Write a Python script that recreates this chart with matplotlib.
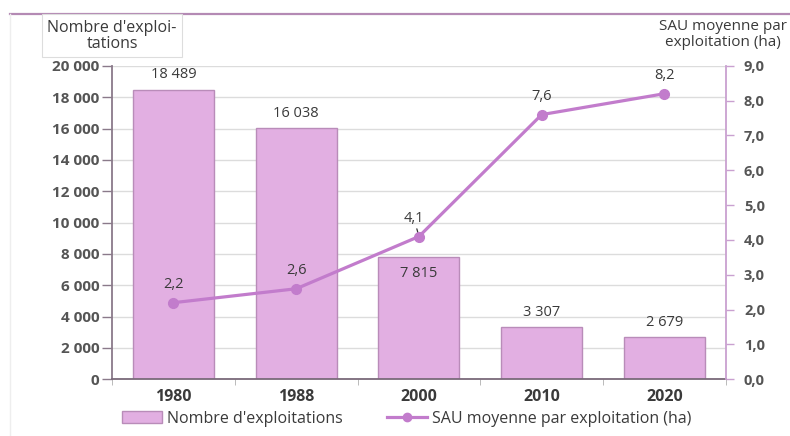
import matplotlib.pyplot as plt
from matplotlib.lines import Line2D
from matplotlib.patches import Patch
import numpy as np

years = ["1980", "1988", "2000", "2010", "2020"]
exploitations = [18489, 16038, 7815, 3307, 2679]
sau_moyenne = [2.2, 2.6, 4.1, 7.6, 8.2]

left_ticks = list(range(0, 20001, 2000))
right_ticks = [0, 1, 2, 3, 4, 5, 6, 7, 8, 9]

BAR = "#e2afe2"
BAR_EDGE = "#b98cb9"
LINE = "#c27ccc"
TXT = "#3a3a3a"
TICK_TXT = "#555555"

plt.rcParams["font.family"] = ["Open Sans", "DejaVu Sans"]


def fr_int(v):
    return f"{v:,}".replace(",", " ")


def fr_dec(v):
    return f"{v:.1f}".replace(".", ",")


fig = plt.figure(figsize=(7.9, 4.36), dpi=100)
ax = fig.add_axes([0.1418, 0.130, 0.777, 0.719])
ax2 = ax.twinx()

x = np.arange(len(years))
bars = ax.bar(x, exploitations, width=0.66, color=BAR, edgecolor=BAR_EDGE, linewidth=1.0, zorder=2)

for i, (b, v) in enumerate(zip(bars, exploitations)):
    cx = b.get_x() + b.get_width() / 2
    if 5000 < v < 10000:
        # label sits inside the bar, under the line
        ax.text(cx, v - 600, fr_int(v), ha="center", va="top", fontsize=10.5, color=TXT, zorder=4)
    else:
        ax.text(cx, v + 450, fr_int(v), ha="center", va="bottom", fontsize=10.5, color=TXT, zorder=4)

ax.set_xlim(-0.5, len(years) - 0.5)
ax.set_ylim(0, 20000)
ax.set_yticks(left_ticks)
ax.set_yticklabels([fr_int(t) for t in left_ticks], fontsize=11, fontweight="bold", color=TICK_TXT)
ax.set_xticks(x)
ax.set_xticklabels(years, fontsize=11.5, fontweight="bold", color=TXT)
ax.tick_params(axis="x", length=0, pad=7)
ax.tick_params(axis="y", length=7, color="#8a7a8a", width=1, pad=2)
ax.set_xticks(np.arange(len(years) + 1) - 0.5, minor=True)
ax.tick_params(axis="x", which="minor", length=4, color="#b0b0b0", direction="out")
ax.grid(axis="y", color="#dcdcdc", linewidth=1.0, zorder=0)
ax.set_axisbelow(True)

ax.spines["top"].set_visible(False)
ax.spines["right"].set_visible(False)
ax.spines["left"].set_color("#8a7a8a")
ax.spines["left"].set_linewidth(1.3)
ax.spines["bottom"].set_color("#7a6a7a")
ax.spines["bottom"].set_linewidth(1.3)

ax2.plot(x, sau_moyenne, color=LINE, linewidth=2.3, marker="o", markersize=7, zorder=5)
ax2.set_ylim(0, 9)
ax2.set_yticks(right_ticks)
ax2.set_yticklabels([fr_dec(t) for t in right_ticks], fontsize=10.5, fontweight="bold", color=TICK_TXT)
ax2.tick_params(axis="y", length=6, color="#c9a0d0", width=1, pad=7)
for s in ["top", "left", "bottom"]:
    ax2.spines[s].set_visible(False)
ax2.spines["right"].set_color("#c9a0d0")
ax2.spines["right"].set_linewidth(1.3)

for i, v in enumerate(sau_moyenne):
    if i == 2:
        ax2.annotate(fr_dec(v), xy=(x[i], v), xytext=(x[i] - 0.04, v + 0.3), ha="center",
                     va="bottom", fontsize=10.5, color=TXT,
                     arrowprops=dict(arrowstyle="-", color="#333333", lw=0.9,
                                     shrinkA=0, shrinkB=3))
    else:
        ax2.text(x[i], v + 0.3, fr_dec(v), ha="center", va="bottom", fontsize=10.5, color=TXT)

# titles of both axes
fig.text(0.142, 0.918, "Nombre d'exploi-\ntations", ha="center", va="center", fontsize=11.5,
         color=TXT, linespacing=1.0,
         bbox=dict(boxstyle="square,pad=0.35", facecolor="white", edgecolor="#dddddd", linewidth=0.8))
fig.text(0.915, 0.921, "SAU moyenne par\nexploitation (ha)", ha="center", va="center",
         fontsize=11, color=TXT, linespacing=1.05)

# frame lines
fig.add_artist(Line2D([0.013, 1.0], [0.968, 0.968], color="#b48ab4", linewidth=1.6))
fig.add_artist(Line2D([0.013, 0.013], [0.0, 0.968], color="#eeeeee", linewidth=1.0))

handles = [
    Patch(facecolor=BAR, edgecolor=BAR_EDGE, label="Nombre d'exploitations"),
    Line2D([0], [0], color=LINE, linewidth=2.3, marker="o", markersize=6,
           label="SAU moyenne par exploitation (ha)"),
]
fig.legend(handles=handles, loc="center", bbox_to_anchor=(0.515, 0.04), ncol=2, frameon=False,
           fontsize=11.5, handlelength=2.5, handleheight=0.8, columnspacing=2.8, handletextpad=0.3,
           labelcolor=TXT)

fig.savefig("out.png", dpi=100)
